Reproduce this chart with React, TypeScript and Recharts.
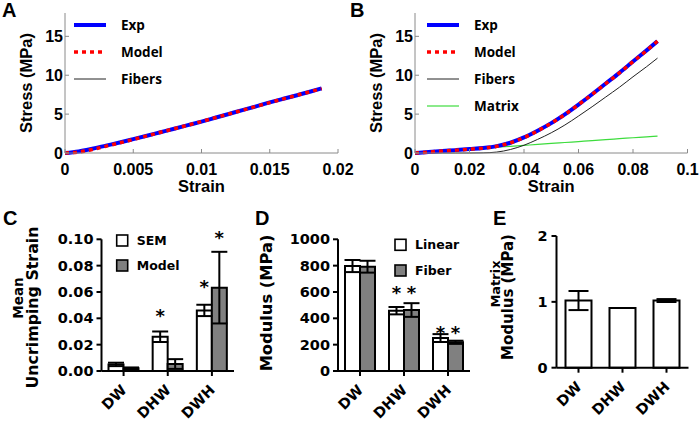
import React from 'react';
import { LineChart, Line, XAxis, YAxis, BarChart, Bar, ErrorBar, LabelList, Legend } from 'recharts';

// ---------- Panel A data ----------
const strainA = [0, 0.001, 0.002, 0.003, 0.004, 0.005, 0.006, 0.007, 0.008, 0.009, 0.01, 0.011, 0.012, 0.013, 0.014, 0.015, 0.016, 0.017, 0.018, 0.0188];
const expA = [0, 0.2, 0.55, 0.95, 1.35, 1.78, 2.22, 2.67, 3.12, 3.58, 4.04, 4.53, 5.02, 5.51, 6.0, 6.5, 6.97, 7.43, 7.9, 8.3];
const modelA = [0, 0.12, 0.45, 0.87, 1.3, 1.75, 2.2, 2.66, 3.12, 3.58, 4.05, 4.53, 5.02, 5.5, 5.99, 6.48, 6.96, 7.43, 7.9, 8.28];
const fibersA = [0, 0.12, 0.45, 0.86, 1.29, 1.74, 2.19, 2.65, 3.11, 3.57, 4.04, 4.52, 5.01, 5.49, 5.98, 6.47, 6.95, 7.42, 7.89, 8.27];
const xTicksA = [0, 0.005, 0.01, 0.015, 0.02];
const xLabelsA = ['0', '0.005', '0.01', '0.015', '0.02'];

// ---------- Panel B data ----------
const strainB = [0, 0.005, 0.01, 0.015, 0.02, 0.025, 0.03, 0.035, 0.04, 0.045, 0.05, 0.055, 0.06, 0.065, 0.07, 0.075, 0.08, 0.085, 0.089];
const expB = [0, 0.12, 0.25, 0.37, 0.5, 0.64, 0.88, 1.32, 2.0, 2.87, 3.84, 4.96, 6.22, 7.55, 8.93, 10.3, 11.76, 13.2, 14.38];
const modelB = [0, 0.12, 0.25, 0.37, 0.49, 0.63, 0.86, 1.31, 1.98, 2.85, 3.83, 4.95, 6.22, 7.54, 8.92, 10.29, 11.76, 13.18, 14.38];
const fibersB = [0, 0, 0, 0, 0, 0.02, 0.12, 0.45, 1.0, 1.75, 2.6, 3.6, 4.75, 5.95, 7.2, 8.45, 9.8, 11.1, 12.2];
const matrixB = [0, 0.12, 0.25, 0.37, 0.49, 0.61, 0.74, 0.86, 0.98, 1.1, 1.23, 1.35, 1.47, 1.59, 1.72, 1.84, 1.96, 2.08, 2.18];
const xTicksB = [0, 0.02, 0.04, 0.06, 0.08, 0.1];
const xLabelsB = ['0', '0.02', '0.04', '0.06', '0.08', '0.1'];

const stressTicks = [0, 5, 10, 15];
const stressLabels = ['0', '5', '10', '15'];

// ---------- Lower panels data ----------
const groups = ['DW', 'DHW', 'DWH'];

const semStrain = [0.005, 0.026, 0.046];
const semStrainErr = [0.0013, 0.004, 0.0043];
const modelStrain = [0.002, 0.0053, 0.0633];
const modelStrainErr = [0.0007, 0.0037, 0.0272];
const semStrainStar: (number | null)[] = [null, 0.0438, 0.066];
const modelStrainStar: (number | null)[] = [null, null, 0.1033];
const strainTicks = [0, 0.02, 0.04, 0.06, 0.08, 0.1];
const strainTickLabels = ['0.00', '0.02', '0.04', '0.06', '0.08', '0.10'];

const linearModulus = [797, 458, 250];
const linearModulusErr = [46, 28, 30];
const fiberModulus = [792, 463, 218];
const fiberModulusErr = [45, 52, 12];
const linearStar: (number | null)[] = [null, 615, 311];
const fiberStar: (number | null)[] = [null, 615, 311];
const modulusTicks = [0, 200, 400, 600, 800, 1000];
const modulusTickLabels = ['0', '200', '400', '600', '800', '1000'];

const matrixModulus = [1.02, 0.905, 1.02];
const matrixModulusErr = [0.145, 0, 0.022];
const matrixTicks = [0, 1, 2];
const matrixTickLabels = ['0', '1', '2'];

// ---------- styles ----------
const AXIS_GRAY = '#8a8a8a';
const MATLAB_FONT = "'Liberation Sans', Arial, sans-serif";
const LEGEND_FONT = "'Open Sans', sans-serif";
const PRISM_FONT = "'DejaVu Sans', Verdana, sans-serif";
const GRAY_FILL = '#808080';

type LineSpec = { key: string; name: string; color: string; width: number; dash?: string };
const specExp: LineSpec = { key: 'exp', name: 'Exp', color: '#0000ff', width: 4 };
const specModel: LineSpec = { key: 'model', name: 'Model', color: '#ff0000', width: 3.5, dash: '4 4' };
const specFibers: LineSpec = { key: 'fibers', name: 'Fibers', color: '#222222', width: 1 };
const specMatrix: LineSpec = { key: 'matrix', name: 'Matrix', color: '#3ddc3d', width: 1.2 };

const dataA = strainA.map((s, i) => ({ strain: s, exp: expA[i], model: modelA[i], fibers: fibersA[i] }));
const dataB = strainB.map((s, i) => ({ strain: s, exp: expB[i], model: modelB[i], fibers: fibersB[i], matrix: matrixB[i] }));

const dataC = groups.map((g, i) => ({ group: g, sem: semStrain[i], semErr: semStrainErr[i], model: modelStrain[i], modelErr: modelStrainErr[i] }));
const dataD = groups.map((g, i) => ({ group: g, linear: linearModulus[i], linearErr: linearModulusErr[i], fiber: fiberModulus[i], fiberErr: fiberModulusErr[i] }));
const dataE = groups.map((g, i) => ({ group: g, matrix: matrixModulus[i], matrixErr: matrixModulusErr[i] }));

// ---------- tick components ----------
const makeInTickX = (ticks: number[], labels: string[]) => (props: any) => {
  const { x, y, payload, index } = props;
  let i = typeof index === 'number' ? index : ticks.indexOf(payload?.value);
  if (i < 0) i = ticks.indexOf(payload?.value);
  const axisY = y - 10;
  return (
    <g>
      <line x1={x} x2={x} y1={axisY} y2={axisY - 4} stroke={AXIS_GRAY} strokeWidth={1} />
      <text x={x} y={axisY + 21.5} textAnchor="middle" fontFamily={MATLAB_FONT} fontWeight="bold" fontSize={16} fill="#000">
        {labels[i]}
      </text>
    </g>
  );
};

const makeInTickY = (ticks: number[], labels: string[]) => (props: any) => {
  const { x, y, payload, index } = props;
  let i = typeof index === 'number' ? index : ticks.indexOf(payload?.value);
  if (i < 0) i = ticks.indexOf(payload?.value);
  const axisX = x + 2;
  return (
    <g>
      <line x1={axisX} x2={axisX + 4} y1={y} y2={y} stroke={AXIS_GRAY} strokeWidth={1} />
      <text x={x} y={y + 5.8} textAnchor="end" fontFamily={MATLAB_FONT} fontWeight="bold" fontSize={16} fill="#000">
        {labels[i]}
      </text>
    </g>
  );
};

const RotTick = (props: any) => {
  const { x, y, payload } = props;
  const ax = x + 4;
  const ay = y + 15;
  return (
    <text x={ax} y={ay} transform={`rotate(-45 ${ax} ${ay})`} textAnchor="end" fontFamily={PRISM_FONT} fontWeight="bold" fontSize={14.5} fill="#000">
      {payload.value}
    </text>
  );
};

// ---------- titles ----------
const StrainTitle = (props: any) => {
  const vb = props.viewBox || { x: 65, y: 153, width: 273, height: 30 };
  return (
    <text x={vb.x + vb.width / 2} y={vb.y + 38.5} textAnchor="middle" fontFamily={MATLAB_FONT} fontWeight="bold" fontSize={16.5} fill="#000">
      Strain
    </text>
  );
};

const StressTitle = () => (
  <text x={32} y={83} transform="rotate(-90 32 83)" textAnchor="middle" fontFamily={MATLAB_FONT} fontWeight="bold" fontSize={16.5} fill="#000">
    Stress (MPa)
  </text>
);

const ModulusTitleD = () => (
  <text x={42.4} y={103} transform="rotate(-90 42.4 103)" textAnchor="middle" fontFamily={PRISM_FONT} fontWeight="bold" fontSize={16.3} fill="#000">
    Modulus (MPa)
  </text>
);

// rotated titles drawn in page overlay (absolute page coordinates)
type VText = { text: string; x: number; y: number; size: number; font: string };
const verticalTitles: VText[] = [
  { text: 'Mean', x: 23, y: 298, size: 13.5, font: PRISM_FONT },
  { text: 'Uncrimping Strain', x: 38, y: 307.5, size: 15.8, font: PRISM_FONT },
  { text: 'Matrix', x: 500, y: 284, size: 13, font: PRISM_FONT },
  { text: 'Modulus (MPa)', x: 513, y: 297, size: 15, font: PRISM_FONT },
];

// ---------- legends ----------
const makeLineLegend = (specs: LineSpec[], ys: number[], x1: number, x2: number, tx: number, w: number, h: number) => () => (
  <svg width={w} height={h} style={{ display: 'block' }}>
    {specs.map((s, i) => (
      <g key={s.key}>
        <line x1={x1} x2={x2} y1={ys[i]} y2={ys[i]} stroke={s.color} strokeWidth={s.width} strokeDasharray={s.dash} />
        <text x={tx} y={ys[i] + 4.8} fontFamily={LEGEND_FONT} fontWeight="bold" fontSize={13.5} fill="#000">
          {s.name}
        </text>
      </g>
    ))}
  </svg>
);

type BoxSpec = { name: string; fill: string };
const makeBoxLegend = (items: BoxSpec[], bx: number, tops: number[], tx: number, w: number, h: number) => () => (
  <svg width={w} height={h} style={{ display: 'block' }}>
    {items.map((it, i) => (
      <g key={it.name}>
        <rect x={bx} y={tops[i]} width={11} height={11} fill={it.fill} stroke="#000" strokeWidth={1.6} />
        <text x={tx} y={tops[i] + 5.5 + 4.6} fontFamily={PRISM_FONT} fontWeight="bold" fontSize={12.5} fill="#000">
          {it.name}
        </text>
      </g>
    ))}
  </svg>
);

// ---------- stars ----------
const STAR_SIZE = 18;
const makeStar = (values: number[], stars: (number | null)[]) => (props: any) => {
  const idx = props.index;
  const s = stars[idx];
  const vb = props.viewBox || props;
  if (s == null || !vb || vb.height == null || !values[idx]) return null;
  const base = vb.y + vb.height;
  const cy = base - (s * vb.height) / values[idx];
  return (
    <text x={vb.x + vb.width / 2} y={cy + 0.5 * STAR_SIZE} textAnchor="middle" fontFamily={PRISM_FONT} fontWeight="bold" fontSize={STAR_SIZE} fill="#000">
      *
    </text>
  );
};

// ---------- panels ----------
function StressPanel(p: {
  data: any[];
  width: number;
  marginRight: number;
  xMax: number;
  xTicks: number[];
  xLabels: string[];
  drawOrder: LineSpec[];
  legendSpecs: LineSpec[];
  legendX1: number;
  legendX2: number;
  legendTX: number;
}) {
  const legendYs = [25, 52, 79, 106];
  return (
    <LineChart width={p.width} height={200} data={p.data} margin={{ top: 13, right: p.marginRight, left: 20, bottom: 17 }}>
      <XAxis
        type="number"
        dataKey="strain"
        domain={[0, p.xMax]}
        ticks={p.xTicks}
        interval={0}
        height={30}
        axisLine={{ stroke: AXIS_GRAY, strokeWidth: 1 }}
        tickLine={false}
        tickSize={0}
        tickMargin={10}
        tick={makeInTickX(p.xTicks, p.xLabels)}
        label={StrainTitle}
      />
      <YAxis
        type="number"
        domain={[0, 18]}
        ticks={stressTicks}
        interval={0}
        width={45}
        axisLine={{ stroke: AXIS_GRAY, strokeWidth: 1 }}
        tickLine={false}
        tickSize={0}
        tickMargin={2}
        tick={makeInTickY(stressTicks, stressLabels)}
        label={StressTitle}
      />
      {p.drawOrder.map((s) => (
        <Line
          key={s.key}
          type="monotone"
          dataKey={s.key}
          name={s.name}
          stroke={s.color}
          strokeWidth={s.width}
          strokeDasharray={s.dash}
          dot={false}
          activeDot={false}
          isAnimationActive={false}
        />
      ))}
      <Legend
        layout="vertical"
        align="center"
        verticalAlign="middle"
        wrapperStyle={{ left: 0, top: 0, width: p.width, height: 200 }}
        content={makeLineLegend(p.legendSpecs, legendYs, p.legendX1, p.legendX2, p.legendTX, p.width, 200)}
      />
    </LineChart>
  );
}

const barAxisProps = {
  axisLine: { stroke: '#000', strokeWidth: 2 },
  tickLine: { stroke: '#000', strokeWidth: 2 },
  tickSize: 5,
};
const yTickStyle = { fill: '#000', fontSize: 14.5, fontFamily: PRISM_FONT, fontWeight: 'bold' as const };

function PanelC() {
  return (
    <BarChart width={245} height={222} data={dataC} margin={{ top: 39.3, right: 11, left: 5, bottom: 11 }} barGap={0} barSize={15}>
      <XAxis dataKey="group" height={40} interval={0} tickMargin={0} tick={RotTick} {...barAxisProps} />
      <YAxis
        type="number"
        domain={[0, 0.1]}
        ticks={strainTicks}
        interval={0}
        width={96.5}
        tickMargin={3}
        tick={yTickStyle}
        tickFormatter={(v: number, i: number) => strainTickLabels[i] ?? String(v)}
        {...barAxisProps}
      />
      <Bar dataKey="sem" name="SEM" fill="#fff" stroke="#000" strokeWidth={2} isAnimationActive={false}>
        <ErrorBar dataKey="semErr" width={8} stroke="#000" strokeWidth={2} />
        <LabelList dataKey="sem" content={makeStar(semStrain, semStrainStar)} />
      </Bar>
      <Bar dataKey="model" name="Model" fill={GRAY_FILL} stroke="#000" strokeWidth={2} isAnimationActive={false}>
        <ErrorBar dataKey="modelErr" width={8} stroke="#000" strokeWidth={2} />
        <LabelList dataKey="model" content={makeStar(modelStrain, modelStrainStar)} />
      </Bar>
      <Legend
        layout="vertical"
        align="center"
        verticalAlign="middle"
        wrapperStyle={{ left: 0, top: 0, width: 245, height: 222 }}
        content={makeBoxLegend([{ name: 'SEM', fill: '#fff' }, { name: 'Model', fill: GRAY_FILL }], 116.7, [35, 60], 136.7, 245, 222)}
      />
    </BarChart>
  );
}

function PanelD() {
  return (
    <BarChart width={245} height={222} data={dataD} margin={{ top: 39.3, right: 5, left: 5, bottom: 11 }} barGap={0} barSize={15}>
      <XAxis dataKey="group" height={40} interval={0} tickMargin={0} tick={RotTick} {...barAxisProps} />
      <YAxis
        type="number"
        domain={[0, 1000]}
        ticks={modulusTicks}
        interval={0}
        width={103}
        tickMargin={3}
        tick={yTickStyle}
        tickFormatter={(v: number, i: number) => modulusTickLabels[i] ?? String(v)}
        label={ModulusTitleD}
        {...barAxisProps}
      />
      <Bar dataKey="linear" name="Linear" fill="#fff" stroke="#000" strokeWidth={2} isAnimationActive={false}>
        <ErrorBar dataKey="linearErr" width={8} stroke="#000" strokeWidth={2} />
        <LabelList dataKey="linear" content={makeStar(linearModulus, linearStar)} />
      </Bar>
      <Bar dataKey="fiber" name="Fiber" fill={GRAY_FILL} stroke="#000" strokeWidth={2} isAnimationActive={false}>
        <ErrorBar dataKey="fiberErr" width={8} stroke="#000" strokeWidth={2} />
        <LabelList dataKey="fiber" content={makeStar(fiberModulus, fiberStar)} />
      </Bar>
      <Legend
        layout="vertical"
        align="center"
        verticalAlign="middle"
        wrapperStyle={{ left: 0, top: 0, width: 245, height: 222 }}
        content={makeBoxLegend([{ name: 'Linear', fill: '#fff' }, { name: 'Fiber', fill: GRAY_FILL }], 165, [39.3, 65], 185, 245, 222)}
      />
    </BarChart>
  );
}

function PanelE() {
  return (
    <BarChart width={239} height={222} data={dataE} margin={{ top: 36, right: 10.5, left: 5, bottom: 14.3 }} barGap={0} barSize={26}>
      <XAxis dataKey="group" height={40} interval={0} tickMargin={0} tick={RotTick} {...barAxisProps} />
      <YAxis
        type="number"
        domain={[0, 2]}
        ticks={matrixTicks}
        interval={0}
        width={91.5}
        tickMargin={4}
        tick={yTickStyle}
        tickFormatter={(v: number, i: number) => matrixTickLabels[i] ?? String(v)}
        {...barAxisProps}
      />
      <Bar dataKey="matrix" name="Matrix" fill="#fff" stroke="#000" strokeWidth={2} isAnimationActive={false}>
        <ErrorBar dataKey="matrixErr" width={10} stroke="#000" strokeWidth={2} />
      </Bar>
    </BarChart>
  );
}

const panelLetters = [
  { t: 'A', x: 2, y: 17 },
  { t: 'B', x: 350, y: 17 },
  { t: 'C', x: 3, y: 225 },
  { t: 'D', x: 255, y: 225 },
  { t: 'E', x: 493, y: 225 },
];

export default function App() {
  const abs = (left: number, top: number): React.CSSProperties => ({ position: 'absolute', left, top });
  return (
    <div style={{ position: 'absolute', left: 0, top: 0, width: 699, height: 422, background: '#fff', overflow: 'hidden' }}>
      <div style={abs(0, 0)}>
        <StressPanel
          data={dataA}
          width={362}
          marginRight={24}
          xMax={0.02}
          xTicks={xTicksA}
          xLabels={xLabelsA}
          drawOrder={[specFibers, specExp, specModel]}
          legendSpecs={[specExp, specModel, specFibers]}
          legendX1={74}
          legendX2={106}
          legendTX={121}
        />
      </div>
      <div style={abs(350, 0)}>
        <StressPanel
          data={dataB}
          width={349}
          marginRight={11.5}
          xMax={0.1}
          xTicks={xTicksB}
          xLabels={xLabelsB}
          drawOrder={[specMatrix, specFibers, specExp, specModel]}
          legendSpecs={[specExp, specModel, specFibers, specMatrix]}
          legendX1={77}
          legendX2={109}
          legendTX={124}
        />
      </div>
      <div style={abs(0, 200)}>
        <PanelC />
      </div>
      <div style={abs(230, 200)}>
        <PanelD />
      </div>
      <div style={abs(460, 200)}>
        <PanelE />
      </div>
      <svg width={699} height={422} style={{ position: 'absolute', left: 0, top: 0, pointerEvents: 'none' }}>
        {panelLetters.map((l) => (
          <text key={l.t} x={l.x} y={l.y} fontFamily={MATLAB_FONT} fontWeight="bold" fontSize={20} fill="#000">
            {l.t}
          </text>
        ))}
        {verticalTitles.map((t) => (
          <text
            key={t.text + t.x}
            x={t.x}
            y={t.y}
            transform={`rotate(-90 ${t.x} ${t.y})`}
            textAnchor="middle"
            fontFamily={t.font}
            fontWeight="bold"
            fontSize={t.size}
            fill="#000"
          >
            {t.text}
          </text>
        ))}
      </svg>
    </div>
  );
}
